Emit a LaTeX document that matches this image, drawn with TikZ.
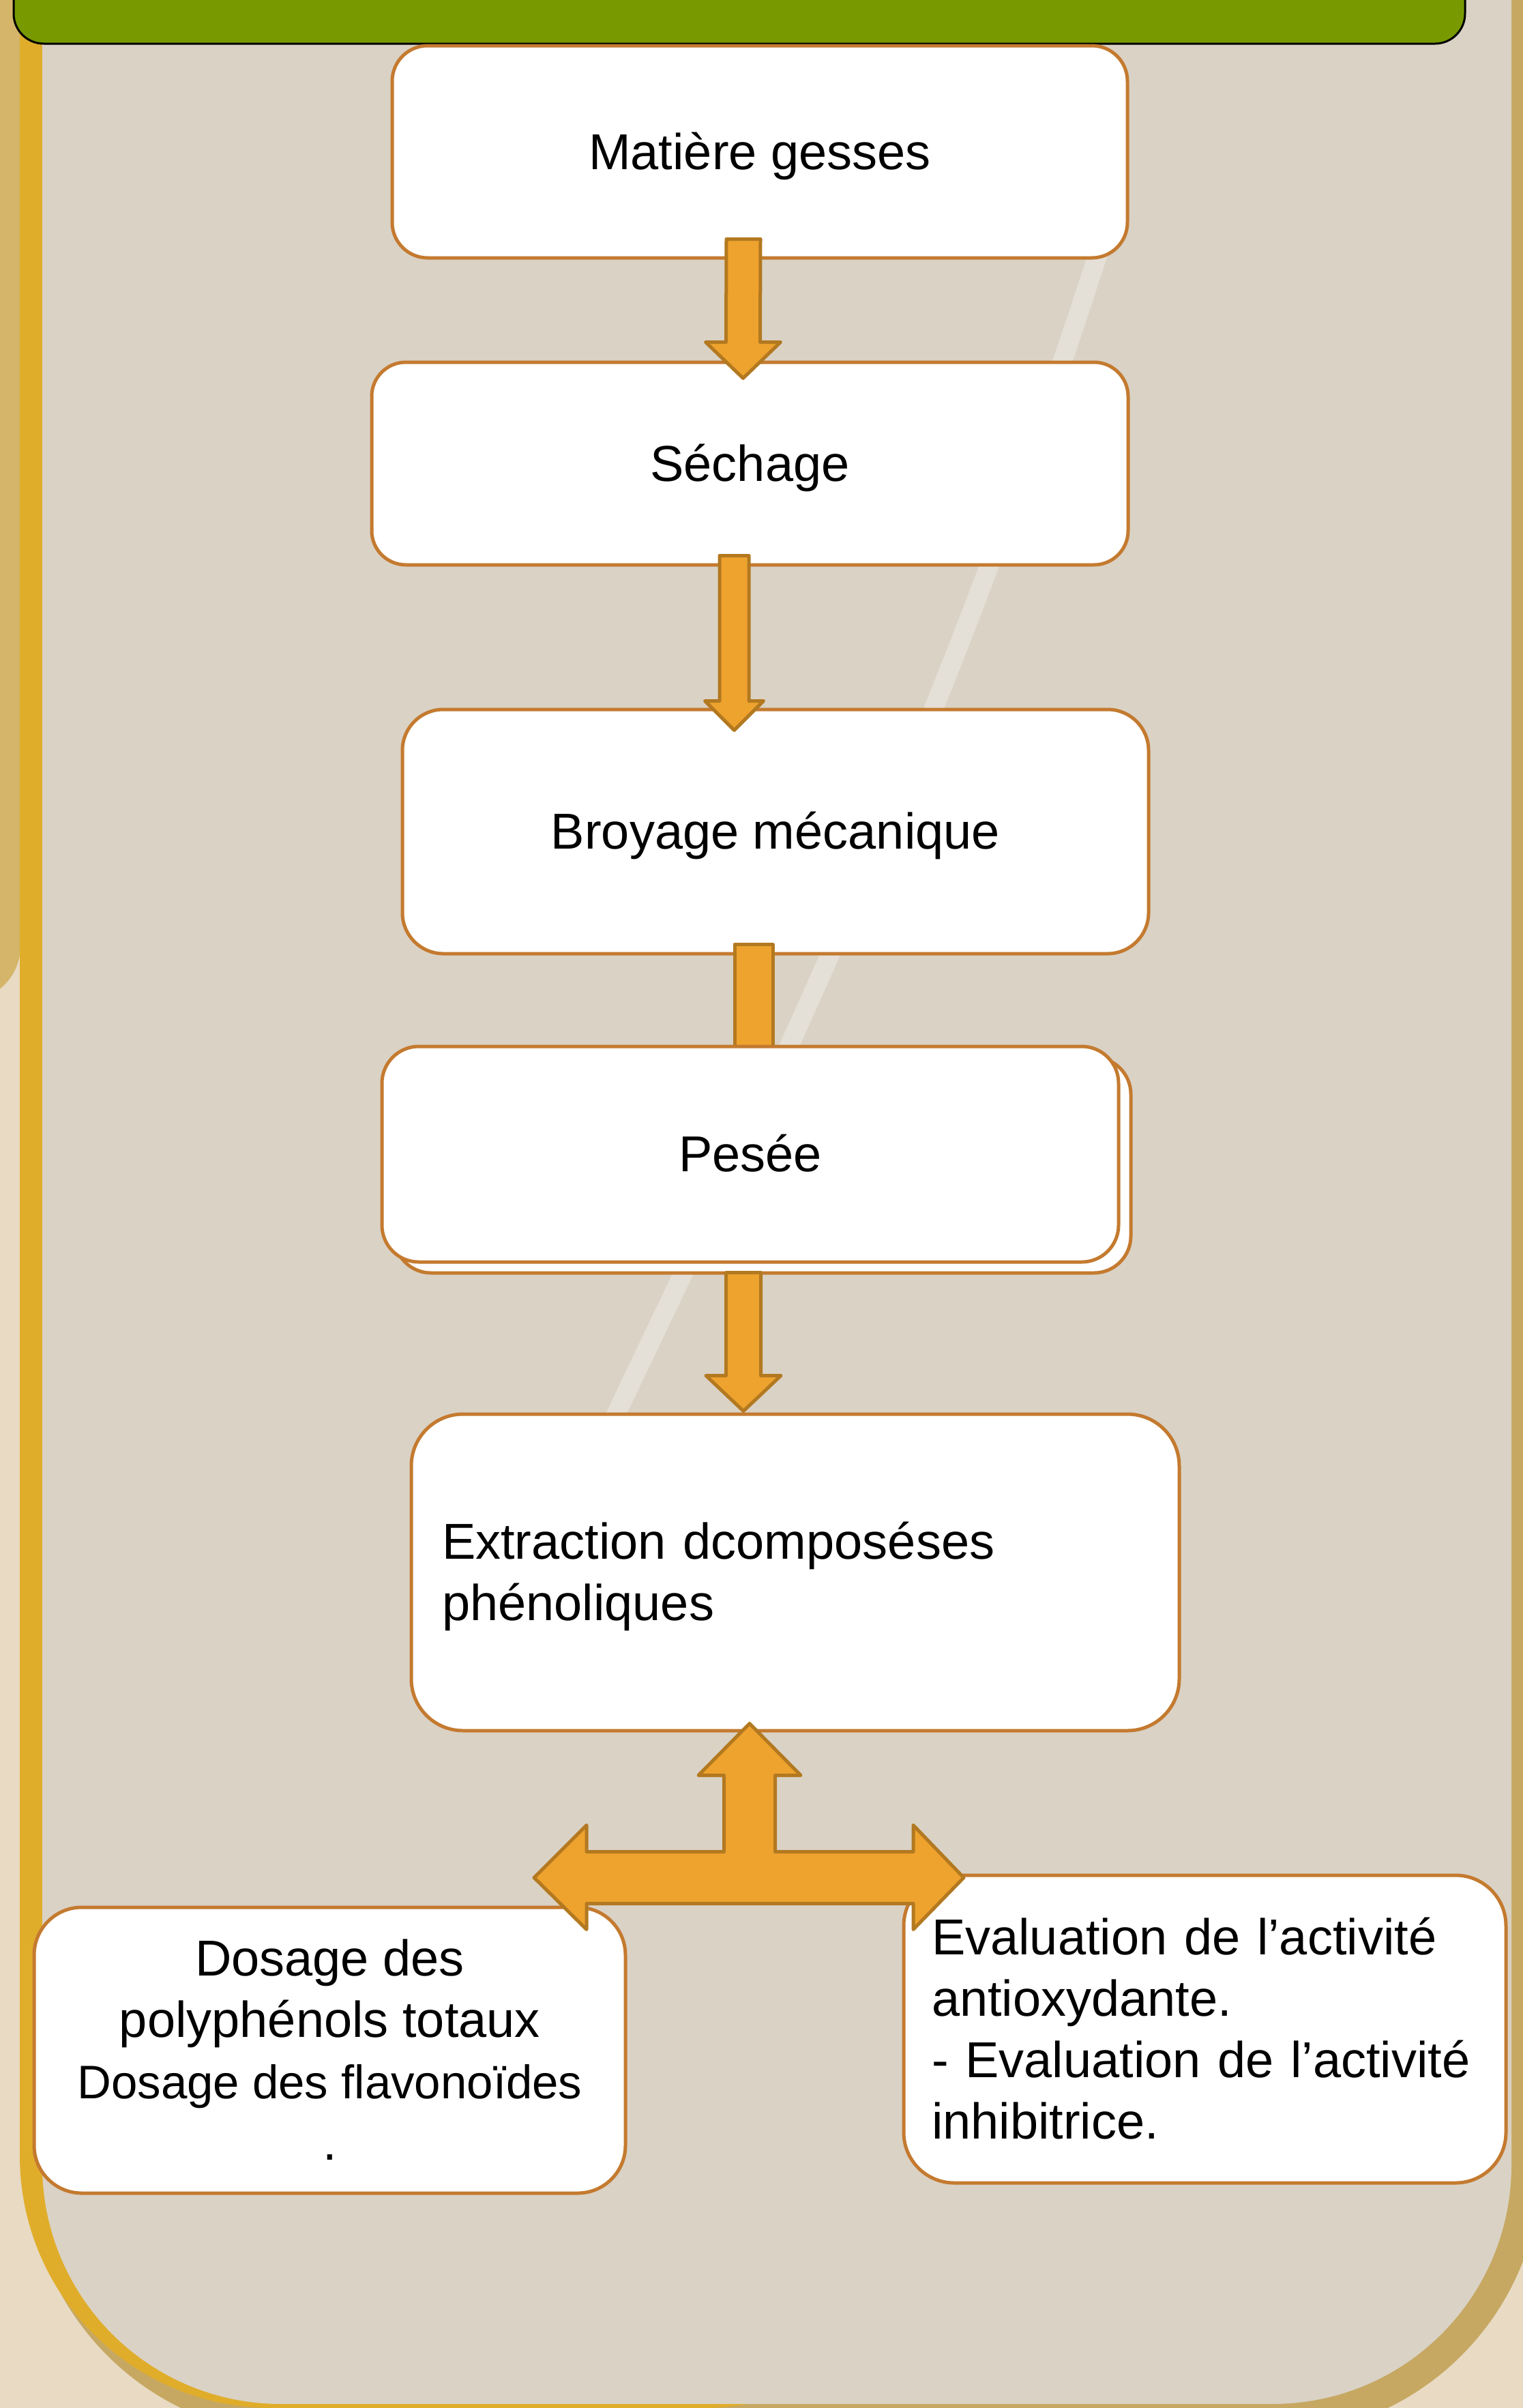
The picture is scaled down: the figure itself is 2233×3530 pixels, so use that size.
\documentclass[tikz,border=0pt]{standalone}
\usepackage{fontspec}
\setmainfont{Liberation Sans}
\usetikzlibrary{calc}
\newcommand\pxu{0.5pt}
\newcommand\ls{\rule[-8pt]{0pt}{41.5pt}}
\definecolor{creamc}{HTML}{E8DAC3}
\definecolor{tanl}{HTML}{D4B56A}
\definecolor{tand}{HTML}{C6A862}
\definecolor{goldc}{HTML}{E0AD2B}
\definecolor{panelc}{HTML}{DAD2C5}
\definecolor{stemc}{HTML}{E7E4DC}
\definecolor{hgreen}{HTML}{789A00}
\definecolor{boxc}{HTML}{C47A2F}
\definecolor{arrf}{HTML}{EEA32E}
\definecolor{arrd}{HTML}{B37920}
\tikzset{
  box/.style={draw=boxc, fill=white, line width=2.5pt, font=\fontsize{37pt}{45pt}\selectfont, inner sep=0pt},
  blk/.style={fill=arrf, draw=arrd, line width=2.5pt, line join=round},
  header/.style={draw=black, fill=hgreen, line width=1.5pt, rounded corners=22pt, inner sep=0pt}
}
\newcommand\blkdown[5]{\draw[blk] ($(#1)+(-#3,0)$) -- ($(#2)+(-#3,-#5)$) -- ($(#2)+(-#4,-#5)$) -- (#2) -- ($(#2)+(#4,-#5)$) -- ($(#2)+(#3,-#5)$) -- ($(#1)+(#3,0)$) -- cycle;}
\begin{document}
\begin{tikzpicture}[x=0.5pt,y=-0.5pt]
\useasboundingbox (0,0) rectangle (2233,3530);
% background
\fill[creamc] (0,0) rectangle (2233,3530);
\fill[tanl, rounded corners=40pt] (-200,-200) rectangle (30,1467);
\fill[tand, rounded corners=200pt] (40,-600) rectangle (2260,3570);
\fill[goldc, rounded corners=185pt] (29,-600) rectangle (1400,3530);
\fill[panelc, rounded corners=175pt] (62,-600) rectangle (2216,3524);
\draw[stemc, line width=14pt, line cap=round, opacity=0.8] (1620,340) .. controls (1380,1100) and (1080,1700) .. (900,2080);
% header
\node[header, minimum width=2128*\pxu, minimum height=200*\pxu] (hdr) at (1084,-36) {};
% boxes
\node[box, minimum width=1078*\pxu, minimum height=311*\pxu, rounded corners=26pt] (mat) at (1114,222.5) {\ls Matière gesses};
\node[box, minimum width=1109*\pxu, minimum height=297*\pxu, rounded corners=25pt] (sech) at (1099.5,679.5) {\ls Séchage};
\node[box, minimum width=1094*\pxu, minimum height=358*\pxu, rounded corners=30pt] (broy) at (1137,1219) {\ls Broyage mécanique};
\node[box, minimum width=1080*\pxu, minimum height=316*\pxu, rounded corners=27pt] (peseeback) at (1118,1708) {};
\draw[blk] ($(broy.south)+(-60,-16)$) rectangle ($(peseeback.north)+(15,16)$);
\node[box, minimum width=1080*\pxu, minimum height=316*\pxu, rounded corners=27pt] (pesee) at (1100,1692) {\ls Pesée};
\node[box, minimum width=1126*\pxu, minimum height=464*\pxu, rounded corners=38pt, text width=518pt, align=left, inner xsep=22.5pt] (extr) at (1166,2305) {\ls Extraction dcomposéses\\\ls phénoliques};
\node[box, minimum width=867*\pxu, minimum height=419*\pxu, rounded corners=35pt, align=center] (dos) at (483.5,3005.5) {\ls Dosage des\\\ls polyphénols totaux\\\ls {\fontsize{34.5pt}{45pt}\selectfont Dosage des flavonoïdes}\\\ls .};
\node[box, minimum width=883*\pxu, minimum height=451*\pxu, rounded corners=37pt, text width=400.5pt, align=left, inner xsep=20.5pt] (eval) at (1766.5,2974.5) {\ls Evaluation de l’activité\\\ls antioxydante.\\\ls - Evaluation de l’activité\\\ls inhibitrice.};
% arrows
\coordinate (a1s) at ($(mat.south)+(-24,-30)$);
\coordinate (a1e) at ($(sech.north)+(-10,26)$);
\blkdown{a1s}{a1e}{25}{55}{53}
\coordinate (a2s) at ($(sech.south)+(-23,-16)$);
\coordinate (a2e) at ($(broy.north)+(-60.5,33)$);
\blkdown{a2s}{a2e}{21.5}{43}{43}
\coordinate (a4s) at ($(peseeback.south)+(-28,-3)$);
\coordinate (a4e) at ($(extr.north)+(-76,-2)$);
\blkdown{a4s}{a4e}{25.5}{55}{52}
\coordinate (tc) at ($(extr.south)+(-67,213)$);
\draw[blk, shift={(tc)}] (0,-226) -- (75,-150) -- (37.5,-150) -- (37.5,-38) -- (240,-38) -- (240,-77) -- (314,0) -- (240,76) -- (240,38) -- (-239,38) -- (-239,76) -- (-316,0) -- (-239,-77) -- (-239,-38) -- (-37.5,-38) -- (-37.5,-150) -- (-75,-150) -- cycle;
\end{tikzpicture}
\end{document}
